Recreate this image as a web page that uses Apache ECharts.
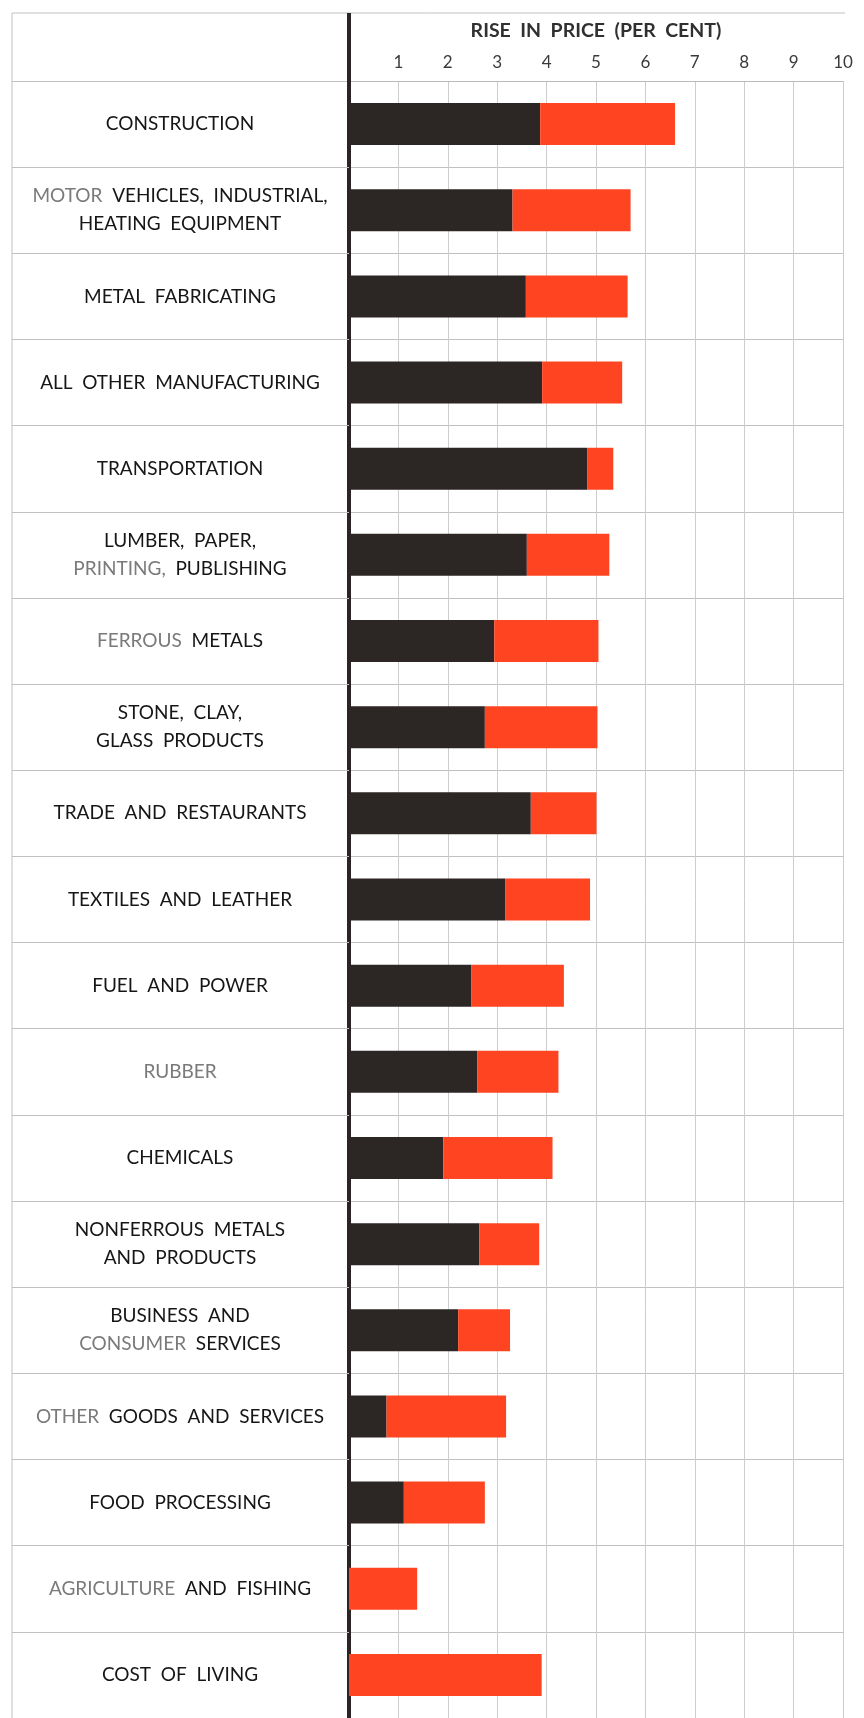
<!DOCTYPE html>
<html>
<head>
<meta charset="utf-8">
<script src="https://cdn.jsdelivr.net/npm/echarts@6/dist/echarts.min.js"></script>
<style>
  html, body { margin: 0; padding: 0; background: #ffffff; }
  #chart { width: 864px; height: 1718px; }
</style>
</head>
<body>
<div id="chart"></div>
<script>
// ---- data ----
const categories = [
  'CONSTRUCTION',
  '{g|MOTOR}  VEHICLES,  INDUSTRIAL,\nHEATING  EQUIPMENT',
  'METAL  FABRICATING',
  'ALL  OTHER  MANUFACTURING',
  'TRANSPORTATION',
  'LUMBER,  PAPER,\n{g|PRINTING,}  PUBLISHING',
  '{g|FERROUS}  METALS',
  'STONE,  CLAY,\nGLASS  PRODUCTS',
  'TRADE  AND  RESTAURANTS',
  'TEXTILES  AND  LEATHER',
  'FUEL  AND  POWER',
  '{g|RUBBER}',
  'CHEMICALS',
  'NONFERROUS  METALS\nAND  PRODUCTS',
  'BUSINESS  AND\n{g|CONSUMER}  SERVICES',
  '{g|OTHER}  GOODS  AND  SERVICES',
  'FOOD  PROCESSING',
  '{g|AGRICULTURE}  AND  FISHING',
  'COST  OF  LIVING'
];
const darkPart = [3.87, 3.31, 3.58, 3.91, 4.82, 3.60, 2.94, 2.75, 3.68, 3.16, 2.48, 2.60, 1.91, 2.64, 2.21, 0.76, 1.11, 0, 0];
const redPart  = [2.73, 2.39, 2.06, 1.62, 0.53, 1.67, 2.11, 2.28, 1.33, 1.72, 1.87, 1.64, 2.21, 1.21, 1.05, 2.42, 1.64, 1.38, 3.90];
const tickValues = [1, 2, 3, 4, 5, 6, 7, 8, 9, 10];
const axisTitle = 'RISE  IN  PRICE  (PER  CENT)';

const FONT = 'Lato, "Noto Sans", sans-serif';
const chart = echarts.init(document.getElementById('chart'), null, { renderer: 'canvas' });

chart.setOption({
  backgroundColor: '#ffffff',
  animation: false,
  grid: { left: 349, right: 21, top: 81, height: 1643, containLabel: false },
  xAxis: {
    type: 'value',
    position: 'top',
    min: 0,
    max: 10,
    interval: 1,
    name: axisTitle,
    nameLocation: 'middle',
    nameGap: 40,
    nameTextStyle: { fontFamily: FONT, fontSize: 19.5, fontWeight: 'bold', color: '#303030' },
    axisLine: { show: true, lineStyle: { color: '#b9b9b9', width: 1 } },
    axisTick: { show: false },
    axisLabel: {
      margin: 10,
      fontFamily: FONT,
      fontSize: 17,
      color: '#3a3a3a',
      formatter: v => (tickValues.indexOf(v) >= 0 ? String(v) : '')
    },
    splitLine: { show: true, lineStyle: { color: '#cdcdcd', width: 1 } }
  },
  yAxis: {
    type: 'category',
    data: categories,
    inverse: true,
    axisLine: { show: true, onZero: false, lineStyle: { color: '#2a2424', width: 4 } },
    axisTick: { show: true, length: 337, lineStyle: { color: '#c0c0c0', width: 1 } },
    splitLine: { show: true, lineStyle: { color: '#c0c0c0', width: 1 } },
    axisLabel: {
      margin: 169,
      align: 'center',
      fontFamily: FONT,
      fontSize: 19,
      lineHeight: 28,
      color: '#161616',
      rich: {
        g: { fontFamily: FONT, fontSize: 19, lineHeight: 28, color: '#7a7a7a' }
      }
    }
  },
  series: [
    {
      type: 'bar',
      name: 'dark',
      stack: 'rise',
      data: darkPart,
      barWidth: 42,
      itemStyle: { color: '#2c2624' }
    },
    {
      type: 'bar',
      name: 'red',
      stack: 'rise',
      data: redPart,
      barWidth: 42,
      itemStyle: { color: '#ff4421' }
    }
  ],
  graphic: [
    { type: 'line', shape: { x1: 12, y1: 13, x2: 845, y2: 13 }, style: { stroke: '#c0c0c0', lineWidth: 1 }, z: 1 },
    { type: 'line', shape: { x1: 12, y1: 13, x2: 12, y2: 1718 }, style: { stroke: '#c0c0c0', lineWidth: 1 }, z: 1 },
    { type: 'line', shape: { x1: 349, y1: 13, x2: 349, y2: 82 }, style: { stroke: '#2a2424', lineWidth: 4 }, z: 5 }
  ]
});
</script>
</body>
</html>
